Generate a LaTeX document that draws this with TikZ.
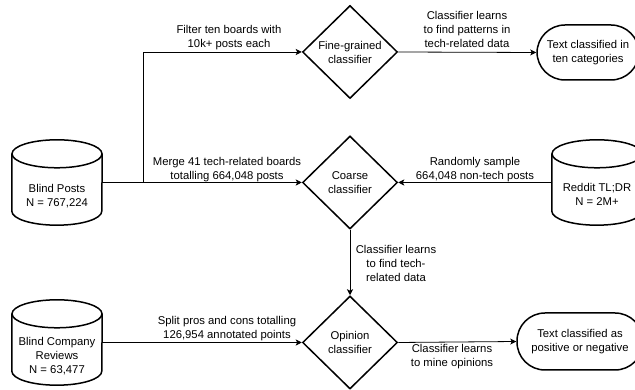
\documentclass[tikz,border=0pt]{standalone}
\usepackage{fontspec}
\setmainfont{Liberation Sans}
\usetikzlibrary{shapes.geometric,arrows.meta}
\tikzset{
  every node/.style={font=\fontsize{11.3}{14}\selectfont},
  shapeline/.style={line width=1.5pt,black},
  conn/.style={line width=0.8pt,-{Stealth[length=6pt,width=6pt,inset=1.5pt]}},
  dia/.style={diamond,draw,shapeline,minimum width=95pt,minimum height=93pt,inner sep=0pt,align=center},
  term/.style={rectangle,draw,shapeline,rounded corners=28pt,inner sep=0pt,align=center},
  cylbox/.style={rectangle,draw=none,minimum width=90pt,minimum height=85pt,inner sep=0pt},
  txt/.style={align=center,inner sep=0pt},
}
\newcommand\mycylout[1]{%
  \draw[shapeline] ([yshift=-14pt]#1.north) ellipse [x radius=45pt, y radius=14pt];
  \draw[shapeline] ([yshift=-14pt]#1.north west) -- ([yshift=14pt]#1.south west)
    arc[start angle=180,end angle=360,x radius=45pt,y radius=14pt] -- ([yshift=-14pt]#1.north east);
}
\begin{document}
\begin{tikzpicture}[x=1pt,y=1pt]
\useasboundingbox (0,0) rectangle (635,390);
\clip (0,0) rectangle (635,390);
% cylinders
\node[cylbox] (bp) at (57,207.5) {};
\mycylout{bp}
\node[txt] (bpt) at ([yshift=-14pt]bp.center) {Blind Posts\\N = 767,224};
\node[cylbox] (bcr) at (57,47.5) {};
\mycylout{bcr}
\node[txt] (bcrt) at ([yshift=-14pt]bcr.center) {Blind Company\\Reviews\\N = 63,477};
\node[cylbox] (rd) at (597,207.5) {};
\mycylout{rd}
\node[txt] (rdt) at ([yshift=-12pt]rd.center) {Reddit TL;DR\\N = 2M+};
% diamonds
\node[dia] (fine) at (350,338) {Fine-grained\\classifier};
\node[dia] (coarse) at (350,207.5) {Coarse\\classifier};
\node[dia] (opin) at (350,47.5) {Opinion\\classifier};
% terminals
\node[term,minimum width=102pt,minimum height=55pt] (ten) at (588,337.5) {Text classified in\\ten categories};
\node[term,minimum width=126pt,minimum height=57pt] (pn) at (580,48.5) {Text classified as\\positive or negative};
% connectors
\coordinate (br) at (143,207.5);
\draw[conn] (bp.east) -- (coarse.west);
\draw[conn] (br) |- (fine.west);
\draw[conn] (fine.east) -- (ten.west);
\draw[conn] (rd.west) -- (coarse.east);
\draw[conn] (coarse.south) -- (opin.north);
\draw[conn] (bcr.east) -- (opin.west);
\draw[conn] (opin.east) -- (pn.west);
% labels
\node[txt] (l1) at (229,352) {Filter ten boards with\\10k+ posts each};
\node[txt] (l2) at (227,220.5) {Merge 41 tech-related boards\\totalling 664,048 posts};
\node[txt] (l3) at (467,361) {Classifier learns\\to find patterns in\\tech-related data};
\node[txt] (l4) at (475,220.5) {Randomly sample\\664,048 non-tech posts};
\node[txt] (l5) at (396,126.5) {Classifier learns\\to find tech-\\related data};
\node[txt] (l6) at (227,61) {Split pros and cons totalling\\126,954 annotated points};
\node[txt] (l7) at (452,33) {Classifier learns\\to mine opinions};
\end{tikzpicture}
\end{document}
